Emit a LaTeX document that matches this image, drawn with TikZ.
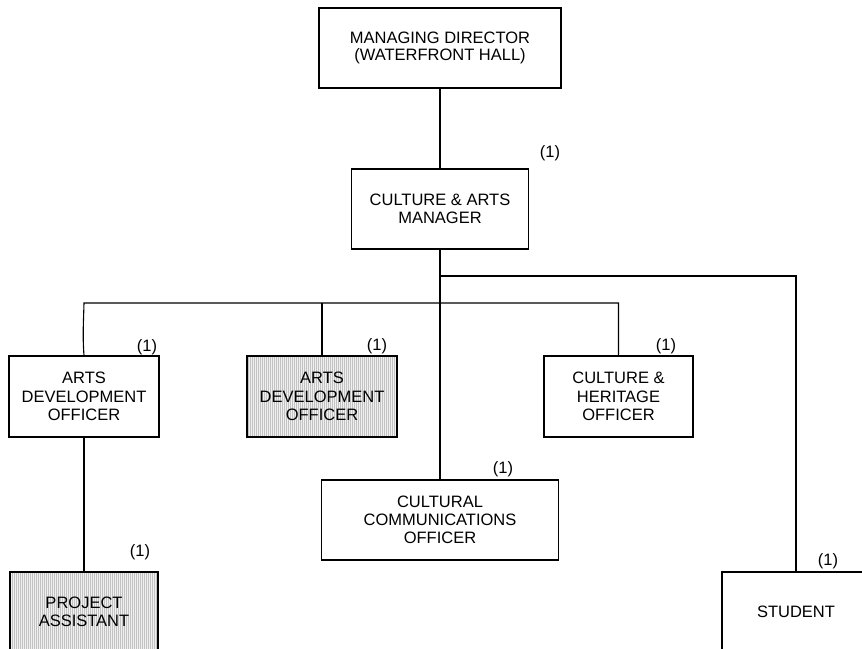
\documentclass[tikz,border=0pt]{standalone}
\usepackage{fontspec}
\setmainfont{Liberation Sans}
\usetikzlibrary{patterns.meta}
\begin{document}
\begin{tikzpicture}[x=1pt,y=-1pt,
  line width=1.1pt,
  every node/.style={font=\fontsize{16.5}{18.2}\selectfont},
  post/.style={draw, rectangle, align=center, inner sep=0pt, line width=1.1pt},
  shaded/.style={post, preaction={fill=black!6},
    pattern={Lines[angle=90, distance=2pt, line width=0.8pt]}, pattern color=black!24},
  count/.style={inner sep=0pt}]
\useasboundingbox (0,0) rectangle (862,648);

% posts
\node[post, minimum width=242pt, minimum height=80pt, font=\fontsize{16.5}{17}\selectfont] (md) at (440,48) {MANAGING DIRECTOR\\(WATERFRONT HALL)};
\node[post, minimum width=177pt, minimum height=80pt] (cam) at (440,209)   {CULTURE \& ARTS\\MANAGER};
\node[post, minimum width=150pt, minimum height=81pt] (ado1) at (84,396.5) {ARTS\\DEVELOPMENT\\OFFICER};
\node[shaded, minimum width=150pt, minimum height=81pt] (ado2) at (322,396.5) {ARTS\\DEVELOPMENT\\OFFICER};
\node[post, minimum width=149pt, minimum height=81pt] (cho) at (618.5,396.5) {CULTURE \&\\HERITAGE\\OFFICER};
\node[post, minimum width=237pt, minimum height=80pt] (cco) at (440,520)   {CULTURAL\\COMMUNICATIONS\\OFFICER};
\node[shaded, minimum width=148pt, minimum height=80pt] (pa) at (84,612)   {PROJECT\\ASSISTANT};
\node[post, minimum width=148pt, minimum height=80pt] (st)  at (796,612)   {STUDENT};

% head counts
\node[count] (c0) at (550,153) {(1)};
\node[count] (c1) at (147,347) {(1)};
\node[count] (c2) at (377,346) {(1)};
\node[count] (c3) at (666,346) {(1)};
\node[count] (c4) at (503,469) {(1)};
\node[count] (c5) at (140,552) {(1)};
\node[count] (c6) at (828,561) {(1)};

% junctions
\coordinate (bus)  at (440,303);
\coordinate (sbus) at (440,276);

% reporting lines
\draw (md.south) -- (cam.north);
\draw (cam.south) -- (cco.north);
\draw (ado1.north) .. controls +(-1.5,-20) and +(-0.5,20) .. (ado1.north |- bus)
      -- (cho.north |- bus) -- (cho.north);
\draw (ado2.north) -- (ado2.north |- bus);
\draw (sbus) -- (sbus -| st.north) -- (st.north);
\draw (ado1.south) -- (pa.north);
\end{tikzpicture}
\end{document}
